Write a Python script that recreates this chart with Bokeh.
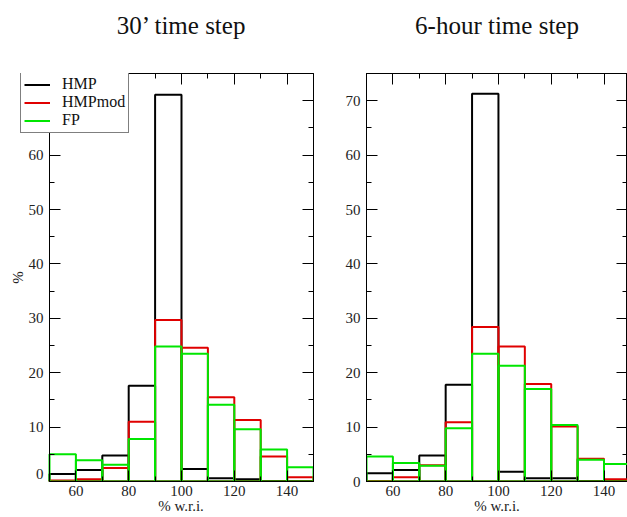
import math
from bokeh.plotting import figure
from bokeh.models import (Range1d, LinearAxis, FixedTicker, CustomJSTickFormatter,
                          Legend, LegendItem)
from bokeh.core.properties import value
from bokeh.layouts import row
from bokeh.embed import file_html
from bokeh.resources import INLINE

# bins (% w.r.i.)
bin_left = [50, 60, 70, 80, 90, 100, 110, 120, 130, 140]
bin_right = [60, 70, 80, 90, 100, 110, 120, 130, 140, 150]

# 30' time step
hmp_30 = [1.4, 2.1, 4.8, 17.6, 71.1, 2.3, 0.6, 0.4, 0.1, 0.1]
hmpmod_30 = [0.2, 0.4, 2.5, 11.0, 29.7, 24.6, 15.5, 11.3, 4.6, 0.8]
fp_30 = [5.0, 3.9, 3.1, 7.8, 24.8, 23.5, 14.1, 9.6, 5.9, 2.6]

# 6-hour time step
hmp_6h = [1.5, 2.1, 4.8, 17.8, 71.3, 1.8, 0.6, 0.6, 0.1, 0.1]
hmpmod_6h = [0.1, 0.8, 3.0, 10.9, 28.4, 24.8, 17.9, 10.1, 4.2, 0.4]
fp_6h = [4.6, 3.4, 2.9, 9.8, 23.5, 21.3, 17.0, 10.4, 4.0, 3.2]

x_major = [60, 80, 100, 120, 140]
x_minor = [50, 60, 70, 80, 90, 100, 110, 120, 130, 140, 150]
y_major = [0, 10, 20, 30, 40, 50, 60, 70]
y_minor = [0, 5, 10, 15, 20, 25, 30, 35, 40, 45, 50, 55, 60, 65, 70, 75]

series_names = ["HMP", "HMPmod", "FP"]
colors = ["#000000", "#e00000", "#00e600"]
FONT = "Liberation Serif"
X0, X1 = 50, 150
Y0, Y1 = 0, 75
EM = "\u2003"     # em space
THIN = "\u2009"   # thin space


def style_axis(ax, labels=True):
    ax.axis_line_color = "black"
    ax.major_tick_line_color = "black"
    ax.minor_tick_line_color = "black"
    ax.major_tick_in = 11
    ax.major_tick_out = 0
    ax.minor_tick_in = 5
    ax.minor_tick_out = 0
    ax.major_label_text_font = FONT
    ax.major_label_text_font_size = "15px"
    ax.major_label_text_color = "#222222"
    ax.axis_label_text_font = FONT
    ax.axis_label_text_font_size = "15px"
    ax.axis_label_text_font_style = "normal"
    ax.axis_label_text_color = "#222222"
    if not labels:
        ax.formatter = CustomJSTickFormatter(code="return ''")
        ax.major_label_text_font_size = "0px"
        ax.major_label_standoff = 0


def make(title, xlabel, vals, width, mbl, mbr, xstart, xend, extended_left):
    p = figure(width=width, height=517, output_backend="svg", toolbar_location=None,
               x_range=Range1d(xstart, xend), y_range=Range1d(Y0, Y1),
               min_border_left=mbl, min_border_right=mbr,
               min_border_top=73, min_border_bottom=36, title=None,
               x_axis_location=None, y_axis_location=None)
    p.xgrid.visible = False
    p.ygrid.visible = False

    xt = FixedTicker(ticks=x_major, minor_ticks=x_minor)
    yt = FixedTicker(ticks=y_major, minor_ticks=y_minor)

    bottom = LinearAxis(ticker=xt, axis_label=xlabel)
    style_axis(bottom)
    bottom.major_label_standoff = 4
    bottom.axis_label_standoff = -1
    bottom.bounds = (X0, X1)
    p.add_layout(bottom, "below")

    # top axis: inward ticks, carries the panel title as its label
    top = LinearAxis(ticker=xt)
    style_axis(top, labels=False)
    top.bounds = (X0, X1)
    top.axis_label = title
    top.axis_label_text_font_size = "25px"
    top.axis_label_text_color = "#111111"
    top.axis_label_standoff = 35
    p.add_layout(top, "above")

    right = LinearAxis(ticker=yt)
    style_axis(right, labels=False)
    p.add_layout(right, "right")

    if extended_left:
        # frame reaches the page edge so the legend can sit left of the y axis line
        p.outline_line_color = None
        left = LinearAxis(ticker=yt, fixed_location=X0)
        style_axis(left, labels=False)
        left.bounds = (Y0, Y1)
        p.add_layout(left, "left")
        offs = [-8 if v == Y0 else 0 for v in y_major]
        p.text(x=[X0] * len(y_major), y=y_major, text=[str(v) for v in y_major],
               x_offset=-6, y_offset=offs, text_align="right", text_baseline="middle",
               text_font=value(FONT), text_font_size="15px", text_color="#222222")
        p.text(x=[X0], y=[(Y0 + Y1) / 2], text=["%"], x_offset=-31, angle=math.pi / 2,
               text_align="center", text_baseline="middle",
               text_font=value(FONT), text_font_size="15px", text_color="#222222")
    else:
        p.outline_line_color = "black"
        left = LinearAxis(ticker=yt)
        style_axis(left)
        left.major_label_standoff = 6
        p.add_layout(left, "left")

    items = []
    for name, v, c in zip(series_names, vals, colors):
        p.quad(left=bin_left, right=bin_right, bottom=0, top=v,
               fill_alpha=0, line_color=c, line_width=2)
        lr = p.line(x=bin_left, y=v, line_color=c, line_width=2, visible=False)
        items.append(LegendItem(label=name, renderers=[lr]))

    if extended_left:
        lg = Legend(items=items, location=(20, 348),
                    border_line_color="black", border_line_width=1,
                    padding=3, spacing=0, margin=0,
                    label_text_font=FONT, label_text_font_size="16px",
                    label_text_color="#111111",
                    glyph_width=26, glyph_height=15, label_height=15,
                    label_standoff=12, background_fill_alpha=1.0)
        p.add_layout(lg)
    return p


# left panel: frame from x=0 so that 50 sits at ~49px (2.64 px per unit);
# leading em spaces re-centre its title and x label over the 50-150 span
p1 = make(EM * 2 + "30\u2019 time step", EM * 3 + THIN + "% w.r.i.",
          [hmp_30, hmpmod_30, fp_30], 333, 0, 20, 31.44, 150, True)
p2 = make("6-hour time step", "% w.r.i.",
          [hmp_6h, hmpmod_6h, fp_6h], 294, 33, 0, 50, 148.9, False)

layout = row(p1, p2)
open("out.html", "w").write(file_html(layout, INLINE))
